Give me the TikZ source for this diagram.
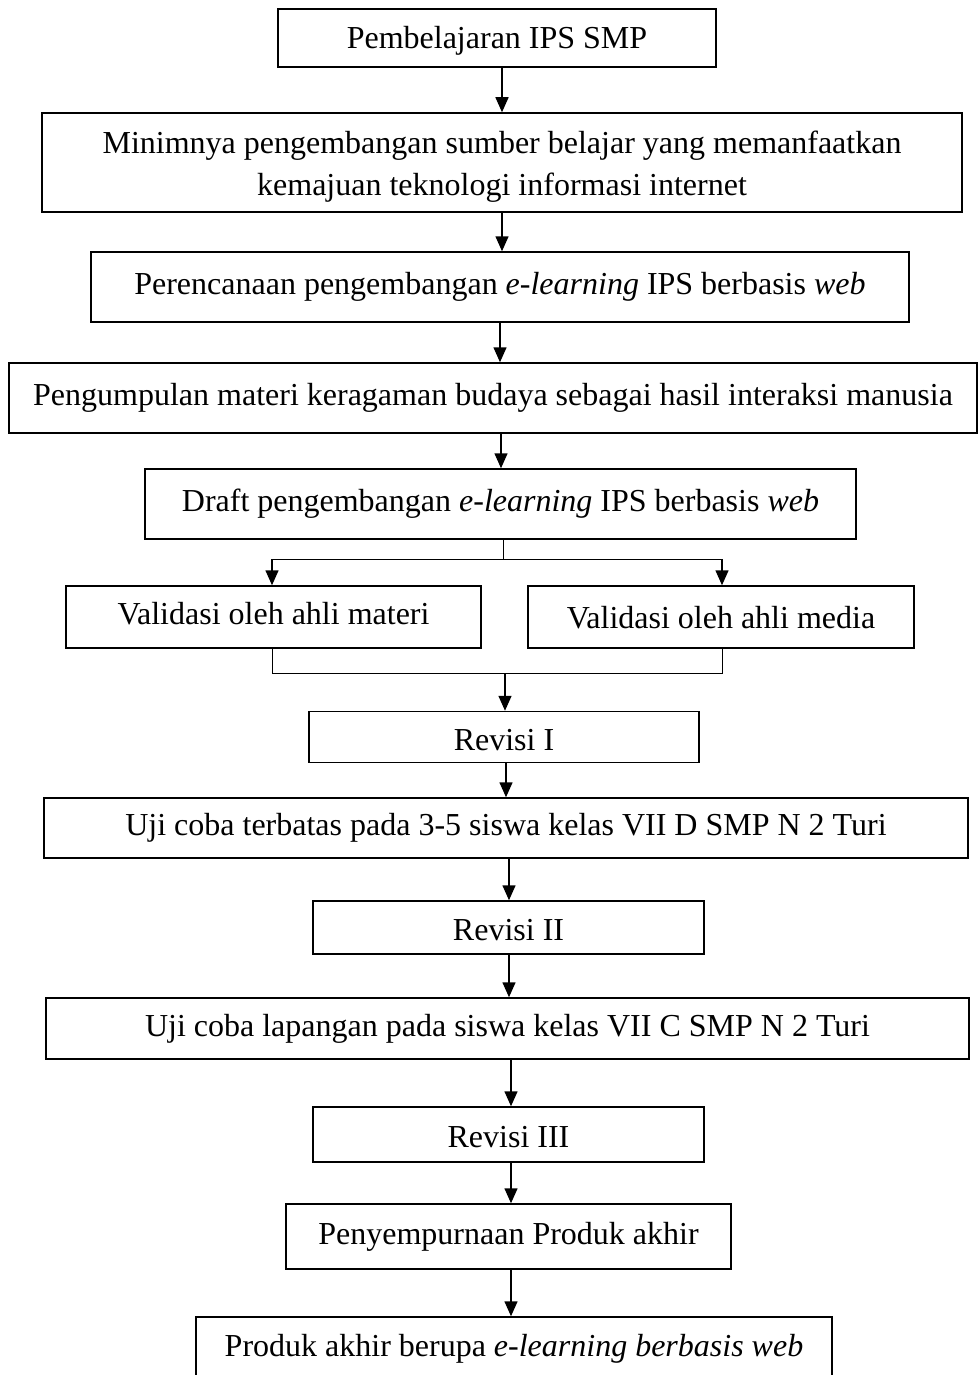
\documentclass[tikz,border=0pt]{standalone}
\usepackage{fontspec}
\setmainfont{Liberation Serif}
\usetikzlibrary{arrows.meta}
\begin{document}
\begin{tikzpicture}[x=1pt,y=-1pt,
  box/.style={draw, line width=1.5pt, rectangle, inner sep=0pt, align=center,
    font=\fontsize{32}{42}\selectfont, text height=22pt, text depth=7pt},
  low/.style={text depth=0pt, text height=22pt},
  lower/.style={text depth=0pt, text height=26pt},
  txt/.style={inner sep=0pt, align=center, font=\fontsize{32}{42}\selectfont},
  arr/.style={line width=1.5pt, -{Triangle[width=13pt,length=15pt]}},
  thin/.style={line width=1pt}]
\useasboundingbox (0,0) rectangle (978,1375);
\node[box, low, minimum width=438, minimum height=58] (b1) at (497,38) {Pembelajaran IPS SMP};
\node[box, minimum width=920, minimum height=99] (b2) at (502,162.5) {};
\node[txt] (b2t) at (502,167) {Minimnya pengembangan sumber belajar yang memanfaatkan\\kemajuan teknologi informasi internet};
\node[box, minimum width=818, minimum height=70] (b3) at (500,287) {Perencanaan pengembangan \textit{e-learning} IPS berbasis \textit{web}};
\node[box, minimum width=968, minimum height=70] (b4) at (493,398) {Pengumpulan materi keragaman budaya sebagai hasil interaksi manusia};
\node[box, minimum width=711, minimum height=70] (b5) at (500.5,504) {Draft pengembangan \textit{e-learning} IPS berbasis \textit{web}};
\node[box, minimum width=415, minimum height=62] (b6) at (273.5,617) {Validasi oleh ahli materi};
\node[box, low, minimum width=386, minimum height=62] (b7) at (721,617) {Validasi oleh ahli media};
\node[box, lower, minimum width=390, minimum height=51] (b8) at (504,737) {Revisi I};
\node[box, minimum width=924, minimum height=60] (b9) at (506,828) {Uji coba terbatas pada 3-5 siswa kelas VII D SMP N 2 Turi};
\node[box, lower, minimum width=391, minimum height=53] (b10) at (508.5,927.5) {Revisi II};
\node[box, minimum width=923, minimum height=61] (b11) at (507.5,1028.5) {Uji coba lapangan pada siswa kelas VII C SMP N 2 Turi};
\node[box, lower, minimum width=391, minimum height=55] (b12) at (508.5,1134.5) {Revisi III};
\node[box, minimum width=445, minimum height=65] (b13) at (508.5,1236.5) {Penyempurnaan Produk akhir};
\node[box, minimum width=636, minimum height=63] (b14) at (514,1348.5) {Produk akhir berupa \textit{e-learning berbasis web}};
% straight arrows
\draw[arr] (b1.south -| 502,0) -- (b2.north -| 502,0);
\draw[arr] (b2.south -| 502,0) -- (b3.north -| 502,0);
\draw[arr] (b3.south -| 500,0) -- (b4.north -| 500,0);
\draw[arr] (b4.south -| 501,0) -- (b5.north -| 501,0);
% split
\coordinate (s) at (503,559);
\coordinate (sl) at (272,559);
\coordinate (sr) at (722,559);
\draw[thin] (b5.south -| s) -- (s);
\draw[thin] (sl) -- (sr);
\draw[arr] (sl) -- (b6.north -| sl);
\draw[arr] (sr) -- (b7.north -| sr);
% merge
\coordinate (ml) at (272,673);
\coordinate (mr) at (722,673);
\coordinate (m) at (505,673);
\draw[thin] (b6.south -| ml) -- (ml) -- (mr) -- (b7.south -| mr);
\draw[arr] (m) -- (b8.north -| m);
\draw[arr] (b8.south -| 506,0) -- (b9.north -| 506,0);
\draw[arr] (b9.south -| 509,0) -- (b10.north -| 509,0);
\draw[arr] (b10.south -| 509,0) -- (b11.north -| 509,0);
\draw[arr] (b11.south -| 511,0) -- (b12.north -| 511,0);
\draw[arr] (b12.south -| 511,0) -- (b13.north -| 511,0);
\draw[arr] (b13.south -| 511,0) -- (b14.north -| 511,0);
\end{tikzpicture}
\end{document}
